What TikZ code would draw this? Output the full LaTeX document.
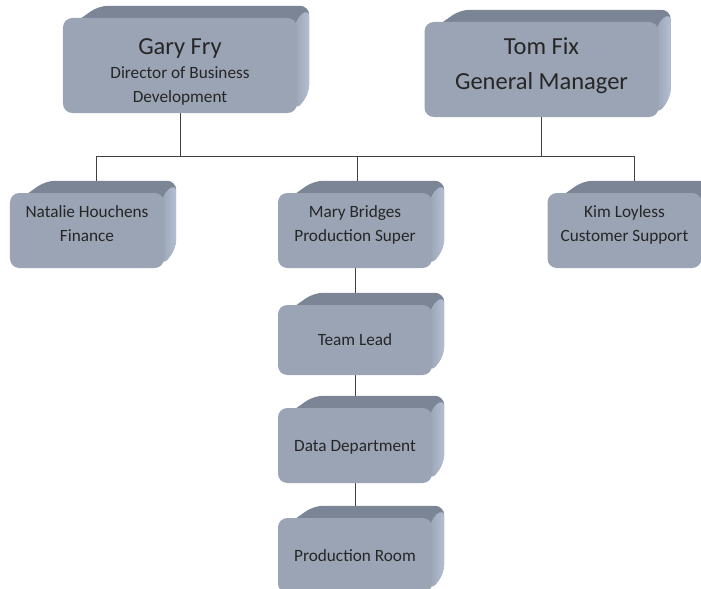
\documentclass[tikz,border=0pt]{standalone}
\usepackage{fontspec}
\setmainfont{Carlito}
\usepackage{tikz}
\usetikzlibrary{calc}
\definecolor{facefront}{HTML}{9AA4B5}
\definecolor{facetop}{HTML}{7B8595}
\definecolor{faceside}{HTML}{B3BFD2}
\definecolor{wireline}{HTML}{404040}
\definecolor{inkgray}{HTML}{262626}
\pgfdeclarelayer{wires}
\pgfdeclarelayer{sides}
\pgfsetlayers{wires,sides,main}
\newcommand{\bigtxt}{\fontsize{20.9}{29.9}\selectfont}
\newcommand{\smalltxt}{\fontsize{14.7}{20.5}\selectfont}

\begin{document}
\begin{tikzpicture}[
    x=0.03cm, y=-0.03cm,
    unit/.style={fill=facefront, rounded corners=8pt, minimum width=4.62cm, minimum height=2.25cm, inner sep=0pt, align=center, text=inkgray, font=\smalltxt, text height=11.1pt, text depth=1.7pt},
    twoline/.style={unit, text height=30.7pt, text depth=12pt},
    head/.style={unit, minimum width=7.02cm, minimum height=2.85cm},
    wire/.style={draw=wireline, line width=0.8pt}
]
    \clip (0,0) rectangle (701,588);
    \node[head, text height=71.7pt, text depth=8.5pt] (gary) at (180,65.5) {{\bigtxt Gary Fry}\\Director of Business\\Development};
    \node[head, font=\bigtxt, text height=42.7pt, text depth=8.5pt] (tom) at (541.5,69.5) {Tom Fix\\General Manager};
    \node[twoline] (natalie) at (87,230.5) {Natalie Houchens\\Finance};
    \node[twoline] (mary) at (355,230.5) {Mary Bridges\\Production Super};
    \node[twoline] (kim) at (624.5,230.5) {Kim Loyless\\Customer Support};
    \node[unit, minimum height=2.1cm] (lead) at (355,340) {Team Lead};
    \node[unit] (data) at (355,445.5) {Data Department};
    \node[unit] (room) at (355,555.5) {Production Room};

    % 3d sides
    \begin{pgfonlayer}{sides}
    \foreach \n in {gary,tom,natalie,mary,kim,lead,data,room}{
        \fill[facetop, rounded corners=8pt] ($(\n.north west)+(2,12)$) -- ($(\n.north west)+(36,-12)$) -- ($(\n.north east)+(12,-12)$) -- ($(\n.south east)+(12,-20)$) -- ($(\n.south east)+(-2,-2)$) -- ($(\n.north east)+(-10,10)$) -- cycle;
        \shade[left color=facefront, right color=faceside, rounded corners=8pt] ($(\n.north east)+(-3,3)$) -- ($(\n.north east)+(12,-10)$) -- ($(\n.south east)+(12,-20)$) -- ($(\n.south east)+(-2,-2)$) -- cycle;
    }
    \end{pgfonlayer}

    % connectors
    \begin{pgfonlayer}{wires}
    \coordinate (bus) at (0,157);
    \draw[wire] (gary.south) -- (gary.south |- bus);
    \draw[wire] (tom.south) -- (tom.south |- bus);
    \draw[wire] ($(natalie.north)+(9,0)$) -- ++(0,-36) -| ($(kim.north)+(9.5,0)$);
    \draw[wire] ($(mary.north)+(2,0)$) -- ++(0,-36);
    \draw[wire] (mary.south) -- (lead.north);
    \draw[wire] (lead.south) -- (data.north);
    \draw[wire] (data.south) -- (room.north);
    \end{pgfonlayer}
\end{tikzpicture}
\end{document}
